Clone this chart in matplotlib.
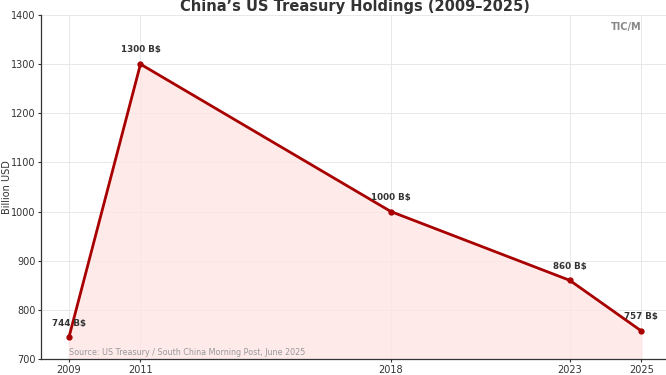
import matplotlib
matplotlib.use("Agg")
import matplotlib.pyplot as plt

years = [2009, 2011, 2018, 2023, 2025]
holdings = [744, 1300, 1000, 860, 757]
labels = ["744 B$", "1300 B$", "1000 B$", "860 B$", "757 B$"]

line_color = "#a80000"
fill_color = "#ffe5e5"

fig = plt.figure(figsize=(6.66, 3.75), dpi=100)
ax = fig.add_axes([41 / 666, 16 / 375, 629 / 666, 344 / 375])

ax.fill_between(years, holdings, 700, color=fill_color, alpha=0.8, zorder=1)
ax.plot(years, holdings, color=line_color, linewidth=2, marker="o",
        markersize=3.5, zorder=3)

for x, y, lab in zip(years, holdings, labels):
    ax.annotate(lab, (x, y), xytext=(0, 7), textcoords="offset points",
                ha="center", va="bottom", fontsize=6.3, fontweight="bold",
                color="#333333")

ax.set_xlim(2008.22, 2025.8)
ax.set_ylim(700, 1400)
ax.set_xticks(years)
ax.set_yticks(range(700, 1401, 100))
ax.tick_params(labelsize=7, colors="#333333", length=2, pad=2)
ax.grid(color="#e8e8e8", linewidth=0.7, zorder=0)
ax.set_axisbelow(True)
for side in ("top", "right"):
    ax.spines[side].set_visible(False)
for side in ("left", "bottom"):
    ax.spines[side].set_color("#333333")
    ax.spines[side].set_linewidth(0.9)

ax.set_ylabel("Billion USD", fontsize=7, color="#333333")
ax.yaxis.set_label_coords(-29 / 629, 0.5)
ax.set_xlabel("Year", fontsize=7, color="#333333", labelpad=2)
fig.text(355 / 666, 1 - 7 / 375,
         "China\u2019s US Treasury Holdings (2009\u20132025)", fontsize=10.5,
         fontweight="bold", color="#333333", ha="center", va="center")

ax.text(2009, 714, "Source: US Treasury / South China Morning Post, June 2025",
        fontsize=5.8, color="#999999", ha="left", va="center")
ax.text(2025, 1375, "TIC/M", fontsize=7, fontweight="bold",
        color="#888888", ha="right", va="center")

fig.savefig("out.png", dpi=100)
